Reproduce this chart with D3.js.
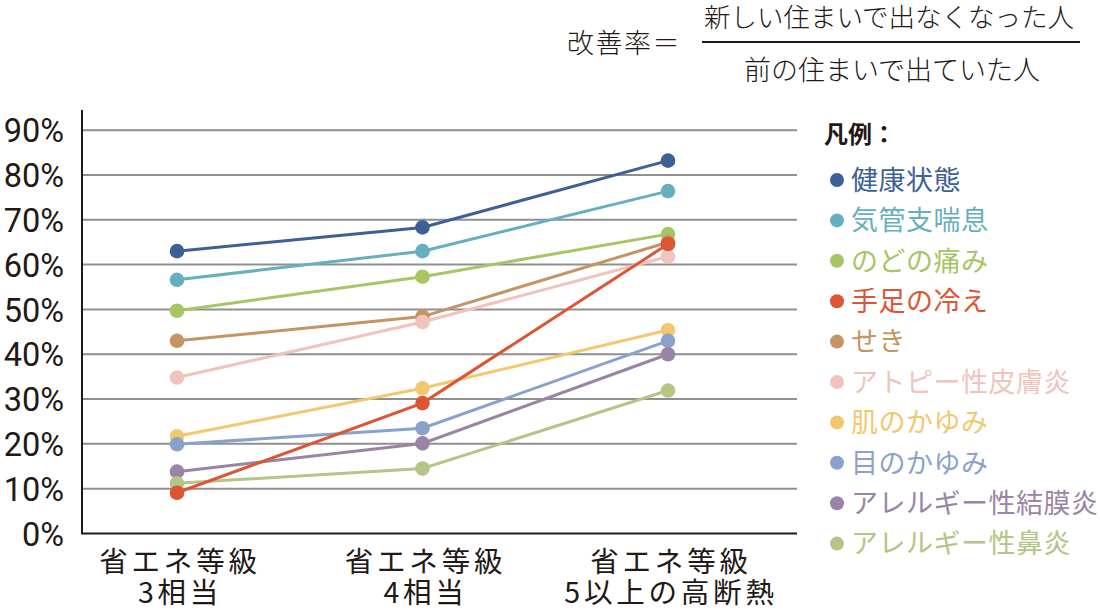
<!DOCTYPE html>
<html><head><meta charset="utf-8">
<script src="https://cdn.jsdelivr.net/npm/d3@7"></script>
<style>
html,body{margin:0;padding:0;background:#fff;}
svg{display:block;font-family:"Noto Sans CJK JP","Noto Sans",sans-serif;}
</style></head>
<body>
<svg id="c" width="1100" height="610"></svg>
<script>
const categories = [["省エネ等級","3相当"],["省エネ等級","4相当"],["省エネ等級","5以上の高断熱"]];
const seriesNames = ["健康状態","気管支喘息","のどの痛み","手足の冷え","せき","アトピー性皮膚炎","肌のかゆみ","目のかゆみ","アレルギー性結膜炎","アレルギー性鼻炎"];
const seriesColors = ["#3d6096","#66afbf","#a7c563","#dc5534","#c49462","#f0c3bd","#f2c86f","#8aa2cb","#9a84a6","#b5c585"];
const v健康状態 = [63.0, 68.3, 83.2];
const v気管支喘息 = [56.6, 63.0, 76.4];
const vのどの痛み = [49.7, 57.3, 66.8];
const v手足の冷え = [9.1, 29.1, 64.6];
const vせき = [43.0, 48.4, 65.0];
const vアトピー = [34.8, 47.2, 61.8];
const v肌のかゆみ = [21.7, 32.4, 45.4];
const v目のかゆみ = [19.9, 23.5, 43.0];
const v結膜炎 = [13.8, 20.1, 40.0];
const v鼻炎 = [11.2, 14.5, 31.9];
const seriesValues = [v健康状態,v気管支喘息,vのどの痛み,v手足の冷え,vせき,vアトピー,v肌のかゆみ,v目のかゆみ,v結膜炎,v鼻炎];
const yTicks = [0,10,20,30,40,50,60,70,80,90];
const legendTitle = "凡例：";
const formulaLeft = "改善率＝";
const formulaNum = "新しい住まいで出なくなった人";
const formulaDen = "前の住まいで出ていた人";

const svg = d3.select("#c");
const ink = "#231815";
const x0 = 82, x1 = 797;
const y = d3.scaleLinear().domain([0, 94.5]).range([533.5, 110]);
const x = d3.scalePoint().domain(d3.range(categories.length)).range([177, 668]);

// gridlines
svg.append("g").selectAll("line").data(yTicks.filter(d=>d>0)).join("line")
  .attr("x1", x0).attr("x2", x1).attr("y1", d=>y(d)).attr("y2", d=>y(d))
  .attr("stroke", "#8f8f8f").attr("stroke-width", 2);

// axes lines
svg.append("line").attr("x1", x0).attr("x2", x0).attr("y1", y(0)).attr("y2", y(94.5))
  .attr("stroke", ink).attr("stroke-width", 2);
svg.append("line").attr("x1", x0-1).attr("x2", x1).attr("y1", y(0)).attr("y2", y(0))
  .attr("stroke", ink).attr("stroke-width", 2);

// y axis labels
const ya = svg.append("g").attr("transform", "translate(64,0)")
  .call(d3.axisLeft(y).tickValues(yTicks).tickSize(0).tickPadding(0).tickFormat(d=>d+"%"));
ya.select(".domain").remove();
ya.selectAll("text").attr("font-family","Roboto, 'Noto Sans', sans-serif").attr("font-size", 32.5)
  .attr("fill", ink).attr("dy", "0.36em");

// x labels
const xl = svg.append("g").selectAll("text").data(categories).join("text")
  .attr("text-anchor","middle").attr("font-size", 28.5).attr("letter-spacing", 3.8).attr("fill", ink);
xl.each(function(d,i){
  const t = d3.select(this);
  d.forEach((line,j)=>{
    t.append("tspan").attr("x", x(i) + 3).attr("y", 572 + j*30.5).text(line);
  });
});

// lines
const line = d3.line().x((d,i)=>x(i)).y(d=>y(d));
const order = [0,1,2,4,5,6,7,8,9,3];
svg.append("g").selectAll("path").data(order).join("path")
  .attr("d", k=>line(seriesValues[k])).attr("fill","none")
  .attr("stroke", k=>seriesColors[k]).attr("stroke-width", 3);
// points
const pg = svg.append("g");
order.forEach(k=>{
  pg.append("g").selectAll("circle").data(seriesValues[k]).join("circle")
    .attr("cx",(d,i)=>x(i)).attr("cy", d=>y(d)).attr("r", 7.3)
    .attr("fill", seriesColors[k]);
});

// legend
svg.append("text").attr("x", 824).attr("y", 143).attr("font-size", 24).attr("font-weight", 700)
  .attr("fill", ink).text(legendTitle);
const lg = svg.append("g").selectAll("g").data(seriesNames).join("g")
  .attr("transform", (d,i)=>`translate(0,${180 + i*40.4})`);
lg.append("circle").attr("cx", 837).attr("cy", 0).attr("r", 7).attr("fill", (d,i)=>seriesColors[i]);
lg.append("text").attr("x", 851).attr("y", 0).attr("dy","0.36em").attr("font-size", 27)
  .attr("letter-spacing", 0.5)
  .attr("fill", (d,i)=>seriesColors[i]).text(d=>d);

// formula
svg.append("text").attr("x", 567).attr("y", 53).attr("font-size", 27).attr("font-weight", 300)
  .attr("letter-spacing", 1.5).attr("fill", ink).text(formulaLeft);
svg.append("text").attr("x", 889).attr("y", 27).attr("text-anchor","middle").attr("font-size", 26.5)
  .attr("font-weight", 300).attr("fill", ink).text(formulaNum);
svg.append("line").attr("x1", 702).attr("x2", 1080).attr("y1", 42).attr("y2", 42)
  .attr("stroke", ink).attr("stroke-width", 2);
svg.append("text").attr("x", 892).attr("y", 80).attr("text-anchor","middle").attr("font-size", 27)
  .attr("font-weight", 300).attr("fill", ink).text(formulaDen);
</script>
</body></html>
